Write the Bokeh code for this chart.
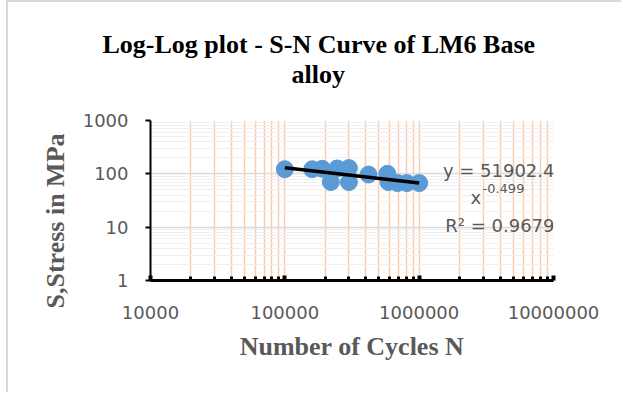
import numpy as np
from bokeh.plotting import figure
from bokeh.models import FixedTicker, Label, ColumnDataSource, Range1d, Title
from bokeh.embed import file_html
from bokeh.resources import INLINE

# ---- data ----
cycles = [100000, 160000, 190000, 220000, 245000, 300000, 300000,
          420000, 580000, 590000, 690000, 810000, 1000000]
stress = [122, 122, 124, 70, 126, 128, 70, 97, 100, 70, 67, 67, 67]

x_ticks = [10000, 100000, 1000000, 10000000]
x_tick_labels = ["10000", "100000", "1000000", "10000000"]
y_ticks = [1, 10, 100, 1000]
y_tick_labels = ["1", "10", "100", "1000"]

title_line1 = "Log-Log plot - S-N Curve of LM6 Base"
title_line2 = "alloy"
x_title = "Number of Cycles N"
y_title = "S,Stress in MPa"
eq_line1 = "y = 51902.4"
eq_base = "x"
eq_exp = "-0.499"
eq_r2 = "R² = 0.9679"

GRAY = "#595959"
PEACH = "#F8CBAD"
SERIF = "Liberation Serif"

p = figure(width=615, height=392, x_axis_type="log", y_axis_type="log",
           x_range=Range1d(10000, 10000000), y_range=Range1d(1, 1000),
           output_backend="svg", toolbar_location=None,
           min_border_left=142, min_border_right=70,
           min_border_top=118, min_border_bottom=114,
           styles={"margin-left": "6px",
                   "border-left": "2px solid #D9D9D9",
                   "border-top": "2px solid #D9D9D9"})
p.background_fill_color = "white"
p.border_fill_color = "white"
p.outline_line_color = None

def minor_of(decades):
    out = []
    for d in decades[:-1]:
        out += [d * k for k in range(2, 10)]
    return out

xt = FixedTicker(ticks=x_ticks, minor_ticks=minor_of(x_ticks))
yt = FixedTicker(ticks=y_ticks, minor_ticks=minor_of(y_ticks))

xa = p.xaxis[0]
xa.ticker = xt
xa.major_label_overrides = {t: l for t, l in zip(x_ticks, x_tick_labels)}
xa.axis_line_color = "black"
xa.axis_line_width = 3
xa.major_tick_line_color = "black"
xa.major_tick_line_width = 4
xa.major_tick_in = 5
xa.major_tick_out = 0
xa.minor_tick_line_color = "black"
xa.minor_tick_line_width = 3
xa.minor_tick_in = 4
xa.minor_tick_out = 0
xa.major_label_text_font = "DejaVu Sans"
xa.major_label_text_font_size = "18px"
xa.major_label_text_color = GRAY
xa.major_label_standoff = 25
xa.axis_label = x_title
xa.axis_label_text_font = SERIF
xa.axis_label_text_font_style = "bold"
xa.axis_label_text_font_size = "26px"
xa.axis_label_text_color = GRAY
xa.axis_label_standoff = 10

ya = p.yaxis[0]
ya.ticker = yt
ya.major_label_overrides = {t: l for t, l in zip(y_ticks, y_tick_labels)}
ya.axis_line_color = "black"
ya.axis_line_width = 2
ya.major_tick_line_color = "black"
ya.major_tick_line_width = 2
ya.major_tick_in = 0
ya.major_tick_out = 5
ya.minor_tick_line_color = None
ya.major_label_text_font = "DejaVu Sans"
ya.major_label_text_font_size = "18px"
ya.major_label_text_color = GRAY
ya.major_label_standoff = 17

p.xgrid.ticker = xt
p.xgrid.grid_line_color = PEACH
p.xgrid.grid_line_width = 1.5
p.xgrid.minor_grid_line_color = PEACH
p.xgrid.minor_grid_line_width = 1.5

p.ygrid.ticker = yt
p.ygrid.grid_line_color = "#D9D9D9"
p.ygrid.grid_line_width = 1.5
p.ygrid.minor_grid_line_color = "#EFEFEF"
p.ygrid.minor_grid_line_width = 1

src = ColumnDataSource(dict(x=cycles, y=stress))
p.scatter("x", "y", source=src, size=17, fill_color="#5B9BD5",
          line_color="#5B9BD5")

# power-law trendline fitted in log space
lx = np.log10(np.array(cycles, dtype=float))
ly = np.log10(np.array(stress, dtype=float))
slope, icpt = np.polyfit(lx, ly, 1)
tx = np.array([min(cycles), max(cycles)], dtype=float)
ty = 10 ** (icpt + slope * np.log10(tx))
p.line(tx, ty, line_color="black", line_width=3.5)

# titles (inner line added first -> closest to the frame)
p.add_layout(Title(text=title_line2, align="left", offset=141, standoff=64,
                   text_font=SERIF, text_font_style="bold",
                   text_font_size="26px", text_color="black"), "above")
p.add_layout(Title(text=title_line1, align="left", offset=-48, standoff=-66,
                   text_font=SERIF, text_font_style="bold",
                   text_font_size="26px", text_color="black"), "above")

# y-axis title as a left-side title so it can be shifted along the axis
p.add_layout(Title(text=y_title, align="left", offset=-28, standoff=20,
                   text_font=SERIF, text_font_style="bold",
                   text_font_size="26px", text_color=GRAY), "left")

def lab(text, x, y, size, align="left"):
    p.add_layout(Label(text=text, x=x, y=y, x_units="canvas", y_units="canvas",
                       text_font="DejaVu Sans", text_font_size=size,
                       text_color=GRAY, text_align=align,
                       text_baseline="alphabetic"))

# canvas coords are relative to the figure (shifted 8px right, 2px down)
lab(eq_line1, 544, 166, "18px", "right")
lab(eq_base, 460, 193, "18px")
lab(eq_exp, 472, 184, "13px")
lab(eq_r2, 544, 221, "18px", "right")

open("out.html", "w").write(file_html(p, INLINE))
